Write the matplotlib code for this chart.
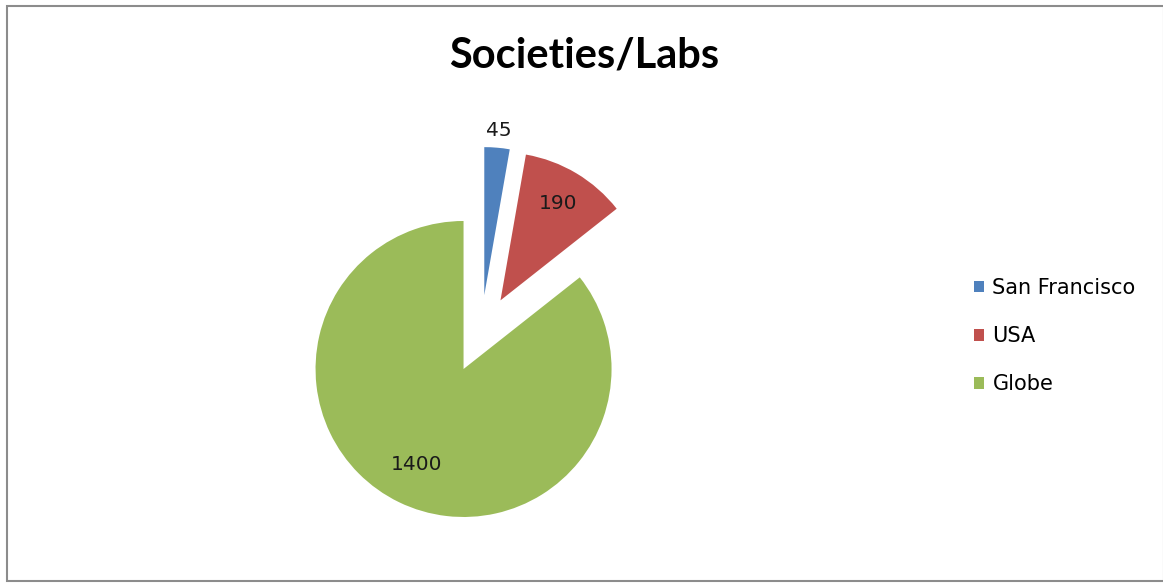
import numpy as np
import matplotlib
matplotlib.use("Agg")
import matplotlib.pyplot as plt
from matplotlib.patches import Rectangle

categories = ["San Francisco", "USA", "Globe"]
values = [45, 190, 1400]
colors = ["#4F81BD", "#C0504D", "#9BBB59"]
label_dist = [1.12, 0.76, 0.72]

W, H = 1163, 583
fig = plt.figure(figsize=(W / 100, H / 100), dpi=100)
fig.patch.set_facecolor("white")

ax = fig.add_axes([0, 0, 1, 1])
ax.set_xlim(0, W)
ax.set_ylim(0, H)
ax.set_aspect("equal")
ax.axis("off")

R = 148
cx, cy = 481, H - 333
wedges, _ = ax.pie(values, colors=colors, startangle=90, counterclock=False,
                   explode=[38, 38, 40], radius=R, center=(cx, cy),
                   frame=True, wedgeprops=dict(linewidth=0))
ax.set_xlim(0, W)
ax.set_ylim(0, H)
ax.axis("off")

for w, v, d in zip(wedges, values, label_dist):
    ang = np.deg2rad((w.theta1 + w.theta2) / 2)
    x = w.center[0] + d * w.r * np.cos(ang)
    y = w.center[1] + d * w.r * np.sin(ang)
    ax.text(x, y, str(v), ha="center", va="center", fontsize=14.5,
            family="DejaVu Sans", color="#1a1a1a")

# border
ax.add_patch(Rectangle((6.5, H - 580.5), W - 6, 575, fill=False,
                       edgecolor="#8c8c8c", linewidth=1.5))

fig.text(584 / W, 1 - 55 / H, "Societies/Labs", ha="center", va="center",
         fontsize=30, fontweight="bold", family="Lato", color="black")

leg = ax.legend(wedges, categories, loc="center left",
                bbox_to_anchor=(955 / W, 1 - 336 / H), frameon=False,
                prop=dict(family="DejaVu Sans", size=15),
                handlelength=0.5, handleheight=0.5,
                handletextpad=0.4, labelspacing=1.35,
                bbox_transform=fig.transFigure)

fig.savefig("out.png", dpi=100, facecolor="white")
